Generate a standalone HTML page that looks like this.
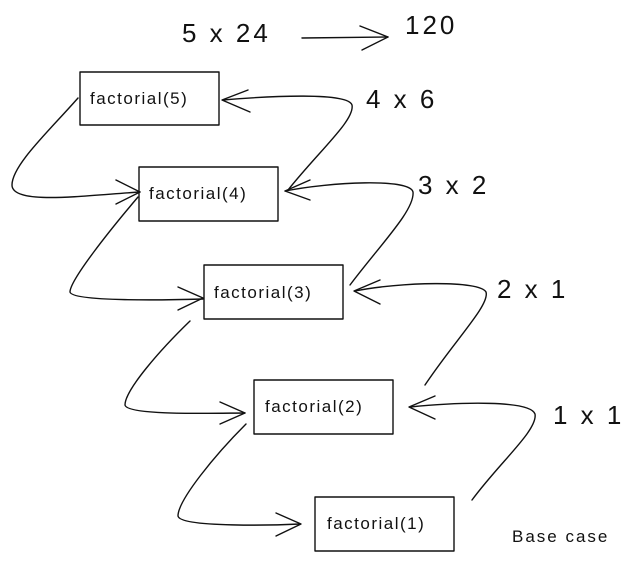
<!DOCTYPE html>
<html><head><style>
html,body{margin:0;padding:0;background:#fff;}
svg{display:block;}
text{font-family:"Liberation Sans",sans-serif;fill:#111;}
</style></head><body>
<svg width="627" height="562" viewBox="0 0 627 562" xmlns="http://www.w3.org/2000/svg">
<g fill="none" stroke="#111" stroke-width="1.4" stroke-linecap="round" stroke-linejoin="round">
<rect x="80" y="72" width="139" height="53"/>
<rect x="139" y="167" width="139" height="54"/>
<rect x="204" y="265" width="139" height="54"/>
<rect x="254" y="380" width="139" height="54"/>
<rect x="315" y="497" width="139" height="54"/>
<path d="M302 38 L388 37"/><path d="M360 26 L388 37 L362 50"/>
<path d="M78 98 C50 130,12 165,12 185 C12 205,80 196,140 192"/><path d="M116 180 L140 192 L116 204"/>
<path d="M138 197 C110 230,70 280,70 292 C72 302,170 300,203 299"/><path d="M178 287 L203 298 L178 310"/>
<path d="M190 321 C160 350,125 390,125 405 C127 416,220 413,245 413"/><path d="M220 402 L245 413 L220 424"/>
<path d="M246 424 C215 455,178 500,178 516 C180 528,280 525,300 524"/><path d="M276 513 L301 524 L276 536"/>
<path d="M288 190 C320 150,355 120,352 105 C348 92,270 96,223 100"/><path d="M248 90 L222 100 L250 112"/>
<path d="M350 285 C380 245,415 210,413 192 C410 178,330 182,285 191"/><path d="M310 180 L285 191 L310 200"/>
<path d="M425 385 C455 340,490 305,486 292 C480 280,400 282,355 291"/><path d="M380 280 L354 291 L380 304"/>
<path d="M472 500 C500 462,538 430,535 414 C530 400,460 402,410 407"/><path d="M435 396 L409 407 L435 419"/>
</g>
<g font-size="17" letter-spacing="1.5">
<text x="90" y="104">factorial(5)</text>
<text x="149" y="199">factorial(4)</text>
<text x="214" y="298">factorial(3)</text>
<text x="265" y="412">factorial(2)</text>
<text x="327" y="529">factorial(1)</text>
</g>
<g font-size="26" letter-spacing="3">
<text x="182" y="42">5 x 24</text>
<text x="405" y="34">120</text>
<text x="366" y="108">4 x 6</text>
<text x="418" y="194">3 x 2</text>
<text x="497" y="298">2 x 1</text>
<text x="553" y="424">1 x 1</text>
</g>
<text x="512" y="542" font-size="17" letter-spacing="2">Base case</text>
</svg>
</body></html>
